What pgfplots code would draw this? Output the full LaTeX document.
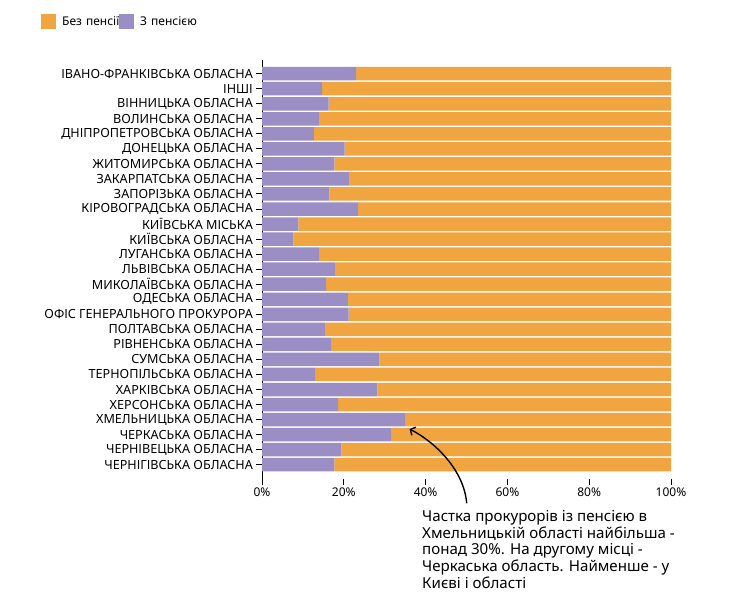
\documentclass[border=0pt]{standalone}
\usepackage{fontspec}
\setmainfont{Noto Sans}
\usepackage{pgfplots}
\pgfplotsset{compat=1.18}
\usepackage{pgfplotstable}
\usetikzlibrary{arrows.meta}
\definecolor{cor}{HTML}{F0A541}
\definecolor{cpu}{HTML}{9A8EC4}
\pgfplotstableread{
idx with rest
26 23.0 77.0
25 14.7 85.3
24 16.3 83.7
23 13.9 86.1
22 12.7 87.3
21 20.2 79.8
20 17.7 82.3
19 21.4 78.6
18 16.5 83.5
17 23.5 76.5
16 8.9 91.1
15 7.7 92.3
14 13.9 86.1
13 17.8 82.2
12 15.7 84.3
11 21.0 79.0
10 21.2 78.8
9 15.4 84.6
8 16.9 83.1
7 28.7 71.3
6 13.0 87.0
5 28.2 71.8
4 18.6 81.4
3 35.0 65.0
2 31.6 68.4
1 19.4 80.6
0 17.7 82.3
}\data
\begin{document}
\begin{tikzpicture}
\path[use as bounding box] (0,0) rectangle (744pt,605pt);
\begin{axis}[
  at={(262pt,126pt)}, anchor=south west,
  scale only axis, width=409pt, height=419pt,
  xbar stacked, bar width=13.5pt,
  xmin=0, xmax=100, ymin=-0.95, ymax=26.91,
  axis lines*=left,
  x axis line style={draw=none},
  y axis line style={black, line width=1pt},
  tick align=outside, major tick length=6pt,
  tick style={black, line width=1pt},
  xtick={0,20,...,100},
  ytick={0,...,26},
  yticklabels={ЧЕРНІГІВСЬКА ОБЛАСНА, ЧЕРНІВЕЦЬКА ОБЛАСНА, ЧЕРКАСЬКА ОБЛАСНА, ХМЕЛЬНИЦЬКА ОБЛАСНА, ХЕРСОНСЬКА ОБЛАСНА, ХАРКІВСЬКА ОБЛАСНА, ТЕРНОПІЛЬСЬКА ОБЛАСНА, СУМСЬКА ОБЛАСНА, РІВНЕНСЬКА ОБЛАСНА, ПОЛТАВСЬКА ОБЛАСНА, ОФІС ГЕНЕРАЛЬНОГО ПРОКУРОРА, ОДЕСЬКА ОБЛАСНА, МИКОЛАЇВСЬКА ОБЛАСНА, ЛЬВІВСЬКА ОБЛАСНА, ЛУГАНСЬКА ОБЛАСНА, КИЇВСЬКА ОБЛАСНА, КИЇВСЬКА МІСЬКА, КІРОВОГРАДСЬКА ОБЛАСНА, ЗАПОРІЗЬКА ОБЛАСНА, ЗАКАРПАТСЬКА ОБЛАСНА, ЖИТОМИРСЬКА ОБЛАСНА, ДОНЕЦЬКА ОБЛАСНА, ДНІПРОПЕТРОВСЬКА ОБЛАСНА, ВОЛИНСЬКА ОБЛАСНА, ВІННИЦЬКА ОБЛАСНА, ІНШІ, ІВАНО-ФРАНКІВСЬКА ОБЛАСНА},
  xticklabel={\pgfmathprintnumber{\tick}\%},
  /pgf/number format/assume math mode=true,
  yticklabel style={font=\fontsize{12.6}{14}\selectfont, inner xsep=3pt},
  xticklabel style={font=\fontsize{12}{14}\selectfont, inner ysep=3pt},
  clip=false,
  reverse legend,
  legend columns=2,
  legend style={at={(-0.5403,1.1098)}, anchor=north west, draw=none, fill=none, inner sep=0pt,
    font=\fontsize{12}{14}\selectfont,
    nodes={inner xsep=6pt, inner ysep=0pt, text width=51pt, align=left},
    /tikz/every even column/.append style={column sep=0pt}},
  legend image code/.code={\fill[#1] (0pt,-7.5pt) rectangle (15pt,7.5pt);},
]
\addplot[fill=cpu, draw=none] table[x=with, y=idx]{\data};
\addlegendentry{\rlap{З пенсією}}
\addplot[fill=cor, draw=none] table[x=rest, y=idx]{\data};
\addlegendentry{\rlap{Без пенсії}}
\end{axis}
\draw[line width=1.4pt, -{Straight Barb[length=4pt,width=9pt]}] (466.7pt,101.7pt) .. controls (464pt,135pt) and (435pt,163pt) .. (409.5pt,176pt);
\node[anchor=north west, align=left, inner sep=0pt, font=\fontsize{15.1}{16.7}\selectfont] at (422pt,95pt) {Частка прокурорів із пенсією в\\Хмельницькій області найбільша -\\понад 30\%. На другому місці -\\Черкаська область. Найменше - у\\Києві і області};
\end{tikzpicture}
\end{document}
